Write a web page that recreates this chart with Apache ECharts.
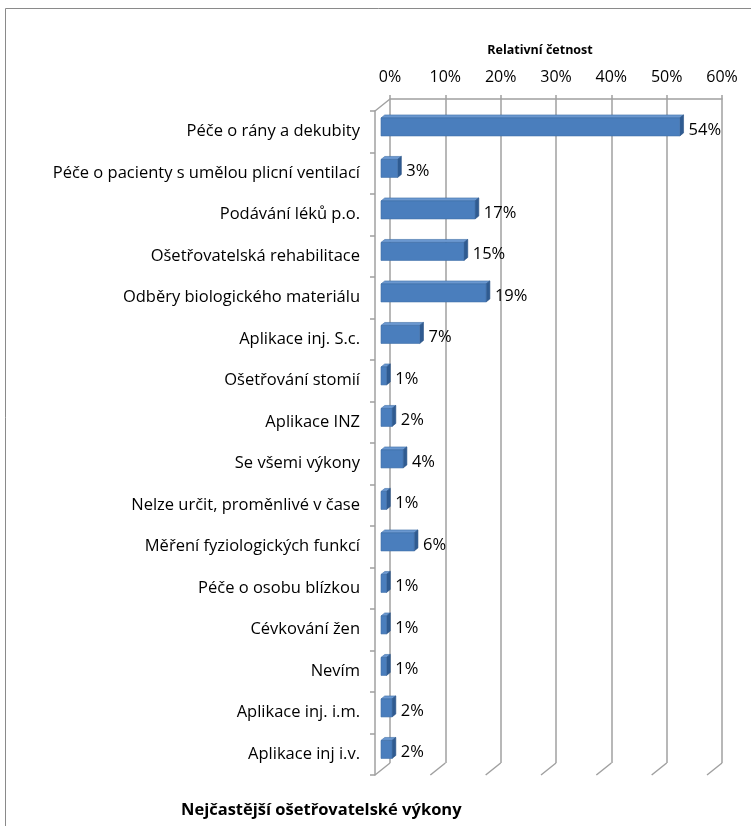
<!DOCTYPE html>
<html>
<head>
<meta charset="utf-8">
<script src="https://cdn.jsdelivr.net/npm/echarts@6/dist/echarts.min.js"></script>
<style>html,body{margin:0;padding:0;background:#fff;}#c{width:751px;height:826px;}</style>
</head>
<body>
<div id="c"></div>
<script>
const categories = [
  'Péče o rány a dekubity',
  'Péče o pacienty s umělou plicní ventilací',
  'Podávání léků p.o.',
  'Ošetřovatelská rehabilitace',
  'Odběry biologického materiálu',
  'Aplikace inj. S.c.',
  'Ošetřování stomií',
  'Aplikace INZ',
  'Se všemi výkony',
  'Nelze určit, proměnlivé v čase',
  'Měření fyziologických funkcí',
  'Péče o osobu blízkou',
  'Cévkování žen',
  'Nevím',
  'Aplikace inj. i.m.',
  'Aplikace inj i.v.'
];
const values = [0.54, 0.03, 0.17, 0.15, 0.19, 0.07, 0.01, 0.02, 0.04, 0.01, 0.06, 0.01, 0.01, 0.01, 0.02, 0.02];
const valueLabels = ['54%', '3%', '17%', '15%', '19%', '7%', '1%', '2%', '4%', '1%', '6%', '1%', '1%', '1%', '2%', '2%'];
const xTicks = [0, 0.1, 0.2, 0.3, 0.4, 0.5, 0.6];
const axisTitle = 'Relativní četnost';
const chartTitle = 'Nejčastější ošetřovatelské výkony';

const FONT = 'Open Sans';
const GRAY = '#a0a0a0';
const DX = 15, DY = 12;      // floor depth
const F1 = 0.6, F2 = 0.35;   // bar front / back depth fractions
const BAR_H = 18;

const chart = echarts.init(document.getElementById('c'), null, {renderer: 'canvas'});

function barItem(params, api) {
  const v = api.value(0), idx = api.value(1);
  const p0 = api.coord([0, idx]);
  const pv = api.coord([v, idx]);
  const fx = -DX * F1, fy = DY * F1;
  const bx = -DX * F2, by = DY * F2;
  const sx = bx - fx, sy = by - fy;
  const x0 = p0[0] + fx, x1 = pv[0] + fx;
  const cy = p0[1] + fy;
  const y0 = cy - BAR_H / 2, y1 = cy + BAR_H / 2;
  return {
    type: 'group',
    children: [
      {type: 'polygon', shape: {points: [[x0, y0], [x1, y0], [x1 + sx, y0 + sy], [x0 + sx, y0 + sy]]},
        style: {fill: '#6b98d0', stroke: '#3f6fa8', lineWidth: 0.6}},
      {type: 'polygon', shape: {points: [[x1, y0], [x1 + sx, y0 + sy], [x1 + sx, y1 + sy], [x1, y1]]},
        style: {fill: '#2f5b91', stroke: '#2a5285', lineWidth: 0.6}},
      {type: 'rect', shape: {x: x0, y: y0, width: x1 - x0, height: BAR_H},
        style: {fill: '#4a7ebd', stroke: '#3f6fa8', lineWidth: 0.6}},
      {type: 'text', style: {x: x1 + sx + 5, y: cy + 3, text: valueLabels[params.dataIndex],
        fill: '#000', font: '16.5px "' + FONT + '"', verticalAlign: 'middle', align: 'left'}}
    ]
  };
}

function floorItem(params, api) {
  const t = api.value(0);
  const p = api.coord([t, 0]);
  const cs = params.coordSys;
  const bottom = cs.y + cs.height;
  const children = [
    {type: 'line', shape: {x1: p[0], y1: bottom, x2: p[0] - DX, y2: bottom + DY},
      style: {stroke: GRAY, lineWidth: 1.5}}
  ];
  if (t === 0) {
    children.push({type: 'line', shape: {x1: p[0], y1: cs.y, x2: p[0] - DX, y2: cs.y + DY},
      style: {stroke: GRAY, lineWidth: 1.5}});
  }
  return {type: 'group', children: children};
}

const option = {
  animation: false,
  backgroundColor: '#fff',
  textStyle: {fontFamily: FONT},
  title: [{
    text: chartTitle, left: 176, top: 797,
    textStyle: {fontFamily: FONT, fontSize: 16.5, fontWeight: 'bold', color: '#000'}
  }],
  graphic: [{
    type: 'rect', shape: {x: 5.5, y: 8.5, width: 800, height: 900},
    style: {fill: 'none', stroke: '#8a8a8a', lineWidth: 1}, silent: true
  }],
  grid: [
    {left: 390, right: 29, top: 99, bottom: 63},
    {left: 375, right: 44, top: 111, bottom: 51}
  ],
  xAxis: [
    {
      gridIndex: 0, type: 'value', position: 'top', min: 0, max: 0.6, interval: 0.1,
      name: axisTitle, nameLocation: 'middle', nameGap: 42,
      nameTextStyle: {fontFamily: FONT, fontSize: 12.5, fontWeight: 'bold', color: '#000', padding: [0, 32, 0, 0]},
      axisLine: {show: true, lineStyle: {color: GRAY, width: 1.5}},
      axisTick: {show: true, length: 4, lineStyle: {color: GRAY, width: 1.5}},
      axisLabel: {margin: 14, fontSize: 16, color: '#000', fontFamily: FONT,
        formatter: v => Math.round(v * 100) + '%'},
      splitLine: {show: true, lineStyle: {color: GRAY, width: 1.5}}
    },
    {gridIndex: 1, type: 'value', min: 0, max: 0.6, show: false}
  ],
  yAxis: [
    {gridIndex: 0, type: 'category', data: categories, inverse: true, show: false},
    {
      gridIndex: 1, type: 'category', data: categories, inverse: true,
      axisLine: {show: true, lineStyle: {color: GRAY, width: 1.5}},
      axisTick: {show: true, length: 5, lineStyle: {color: GRAY, width: 1.5}},
      axisLabel: {margin: 15, fontSize: 16.5, color: '#000', fontFamily: FONT},
      splitLine: {show: false}
    }
  ],
  series: [
    {type: 'custom', xAxisIndex: 0, yAxisIndex: 0, renderItem: floorItem,
      data: xTicks.map(t => [t]), silent: true, z: 1},
    {type: 'custom', xAxisIndex: 0, yAxisIndex: 0, renderItem: barItem,
      data: values.map((v, i) => [v, i]), z: 3}
  ]
};
chart.setOption(option);
</script>
</body>
</html>
